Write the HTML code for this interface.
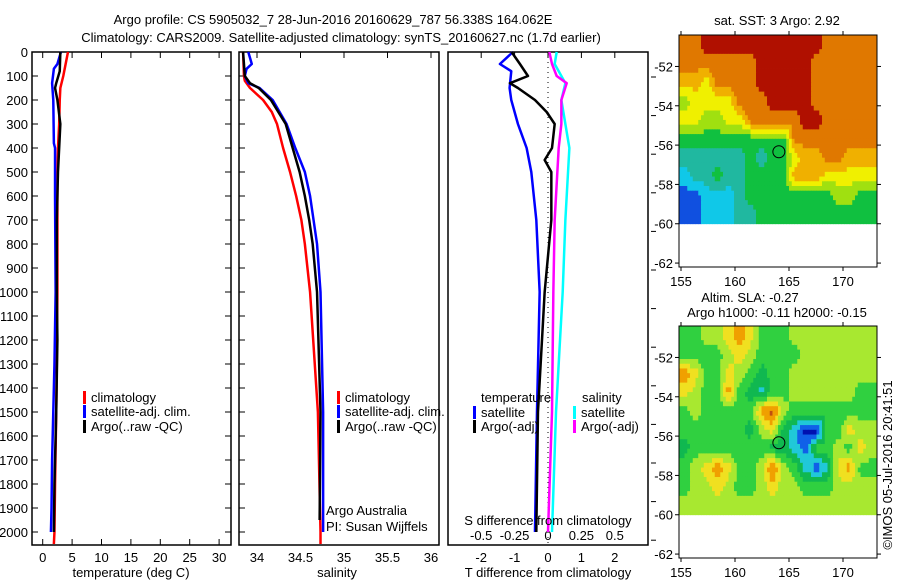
<!DOCTYPE html>
<html><head><meta charset="utf-8"><style>
body{margin:0;background:#fff}
svg text{font-family:"Liberation Sans",sans-serif;font-size:13px;fill:#000}
</style></head><body>
<svg id="c" width="900" height="580" viewBox="0 0 900 580" xmlns="http://www.w3.org/2000/svg">
<text x="333" y="24" text-anchor="middle" font-size="14">Argo profile: CS 5905032_7 28-Jun-2016 20160629_787 56.338S 164.062E</text>
<text x="341" y="42" text-anchor="middle" font-size="14">Climatology: CARS2009. Satellite-adjusted climatology: synTS_20160627.nc (1.7d earlier)</text>
<g id="g1"></g>
<g id="g2"></g>
<g id="g3"></g>
<g id="m1"></g>
<g id="m2"></g>
<text transform="translate(892,465) rotate(-90)" text-anchor="middle" font-size="13">©IMOS 05-Jul-2016 20:41:51</text>
</svg>
<script>
// ---- data ----
const depthTicks=[0,100,200,300,400,500,600,700,800,900,1000,1100,1200,1300,1400,1500,1600,1700,1800,1900,2000];
const tTicks=[0,5,10,15,20,25,30];
const sTicks=[34,34.5,35,35.5,36];
const dTTicks=[-2,-1,0,1,2];
const dSTicks=[-0.5,-0.25,0,0.25,0.5];
const dSTickLabels=["-0.5","-0.25","0","0.25","0.5"];
const tClimD=[0,50,100,150,200,300,400,500,700,1000,1300,1500,1800,2000,2050];
const tClimV=[4.3,3.9,3.5,3.0,2.9,2.8,2.6,2.5,2.5,2.5,2.4,2.3,2.1,2.0,1.9];
const tSatD=[0,50,70,130,200,380,400,600,1000,1300,1500,1700,1900,2000];
const tSatV=[3.1,2.5,1.9,1.6,1.8,1.9,2.1,2.1,2.2,2.0,1.8,1.6,1.5,1.4];
const tArgD=[0,80,130,150,200,300,400,500,700,1000,1200,1500,1800,2000];
const tArgV=[3.0,2.9,2.3,2.1,2.5,3.0,2.8,2.6,2.4,2.4,2.5,2.3,2.0,1.9];
const sClimD=[0,100,120,150,200,250,300,400,500,600,700,800,1000,1500,2000,2050];
const sClimV=[33.84,33.85,33.86,33.92,34.07,34.17,34.23,34.30,34.38,34.45,34.51,34.55,34.61,34.70,34.73,34.73];
const sSatD=[0,50,70,100,130,150,200,300,400,500,600,700,800,1000,1500,2000];
const sSatV=[33.90,33.94,33.88,33.86,33.90,34.03,34.18,34.34,34.44,34.55,34.61,34.65,34.69,34.73,34.76,34.76];
const sArgD=[0,100,130,150,200,300,400,500,600,700,800,1000,1500,1950];
const sArgV=[33.84,33.86,33.92,34.02,34.16,34.33,34.41,34.49,34.55,34.60,34.64,34.69,34.73,34.72];
const dTArgD=[0,50,100,130,150,200,250,300,400,450,500,700,1000,1500,2000];
const dTArgV=[-1.09,-0.84,-0.6,-1.14,-0.9,-0.39,-0.04,0.2,0.12,-0.1,0.1,0.1,-0.1,-0.3,-0.35];
const dTSatD=[0,50,80,150,200,300,400,500,700,1000,1500,2000];
const dTSatV=[-1.05,-1.44,-1.1,-1.15,-1.1,-0.9,-0.64,-0.5,-0.35,-0.25,-0.33,-0.39];
const dSArgD=[0,50,100,130,200,300,400,500,700,1000,1500,2000];
const dSArgV=[0.01,0.03,0.065,0.14,0.1,0.1,0.08,0.07,0.05,0.04,0.03,0.0];
const dSSatD=[0,50,100,130,200,300,400,500,700,1000,1500,2000];
const dSSatV=[0.065,0.05,0.1,0.13,0.1,0.13,0.16,0.15,0.13,0.11,0.06,0.03];
const sstRows=["889999999999988888","888888899999888888","776888899999888888","566668889999888888","665566888889988888","444444444488888888","333333434467788777","233433444477766666","112223444444445544","112223344444444444"];
const slaRows=["445567644455555555","444456544445555555","764465434455555555","654474324455555544","454444478544444444","444444356320044655","344444443321445465","456764458542126744","455654456554445555","555555555555555555"];
const lonTicks=[155,160,165,170];
const latTicks=[-52,-54,-56,-58,-60,-62];
const argoLon=164.062, argoLat=-56.338;
// ---- helpers ----
const NS="http://www.w3.org/2000/svg";
function mk(p,t,a){const e=document.createElementNS(NS,t);for(const k in a)e.setAttribute(k,a[k]);p.appendChild(e);return e;}
const yD=d=>52+d*0.24;
const Y0=52,Y1=545;
function frame(g,x0,x1){const r=mk(g,'rect',{x:x0,y:Y0,width:x1-x0,height:Y1-Y0,fill:'none',stroke:'#000','stroke-width':1.5});}
function line(g,D,V,fx,col,w,name){const pts=D.map((d,i)=>fx(V[i])+','+yD(d)).join(' ');const e=mk(g,'polyline',{points:pts,fill:'none',stroke:col,'stroke-width':w,'stroke-linejoin':'round'});}
function txt(g,x,y,s,anc,name){const t=mk(g,'text',{x:x,y:y,'text-anchor':anc||'start'});t.textContent=s;return t;}
function leg(g,x,y,col,s){mk(g,'rect',{x:x,y:y-11,width:3,height:13,fill:col});txt(g,x+8,y,s,'start','legend-entry');}
// panel 1
const g1=document.getElementById('g1');const xT=v=>42.7+v*5.88;
frame(g1,32,231);
depthTicks.forEach(d=>{const y=yD(d);mk(g1,'line',{x1:32,x2:38,y1:y,y2:y,stroke:'#000'});mk(g1,'line',{x1:225,x2:231,y1:y,y2:y,stroke:'#000'});txt(g1,28,y+5,String(d),'end','depth-tick-label');});
tTicks.forEach(v=>{const x=xT(v);mk(g1,'line',{x1:x,x2:x,y1:Y1,y2:Y1-6,stroke:'#000'});mk(g1,'line',{x1:x,x2:x,y1:Y0,y2:Y0+6,stroke:'#000'});txt(g1,x,562,String(v),'middle','temperature-tick-label');});
txt(g1,131,577,'temperature (deg C)','middle','x-axis-title');
line(g1,tClimD,tClimV,xT,'#f00',2.5,'temperature-climatology-line');
line(g1,tSatD,tSatV,xT,'#00f',2.5,'temperature-satellite-line');
line(g1,tArgD,tArgV,xT,'#000',2.5,'temperature-argo-line');
leg(g1,83,402,'#f00','climatology');leg(g1,83,416,'#00f','satellite-adj. clim.');leg(g1,83,431,'#000','Argo(..raw -QC)');
// panel 2
const g2=document.getElementById('g2');const xS=v=>257+(v-34)*87;
frame(g2,239,439);
depthTicks.forEach(d=>{const y=yD(d);mk(g2,'line',{x1:239,x2:245,y1:y,y2:y,stroke:'#000'});});
sTicks.forEach(v=>{const x=xS(v);mk(g2,'line',{x1:x,x2:x,y1:Y0,y2:Y0+6,stroke:'#000'});txt(g2,x,562,String(v),'middle','salinity-tick-label');});
txt(g2,337,577,'salinity','middle','x-axis-title');
line(g2,sClimD,sClimV,xS,'#f00',2.5,'salinity-climatology-line');
line(g2,sSatD,sSatV,xS,'#00f',2.5,'salinity-satellite-line');
line(g2,sArgD,sArgV,xS,'#000',2.5,'salinity-argo-line');
leg(g2,337,402,'#f00','climatology');leg(g2,337,416,'#00f','satellite-adj. clim.');leg(g2,337,431,'#000','Argo(..raw -QC)');
txt(g2,326,515,'Argo Australia','start','credit');txt(g2,326,531,'PI: Susan Wijffels','start','credit');
// panel 3
const g3=document.getElementById('g3');const xDT=v=>548+v*33.4;const xDS=v=>548+v*133.6;
frame(g3,448,648);
dTTicks.forEach(v=>{const x=xDT(v);mk(g3,'line',{x1:x,x2:x,y1:Y0,y2:Y0+6,stroke:'#000'});txt(g3,x,562,String(v),'middle','t-diff-tick-label');});
dSTicks.forEach((v,i)=>{txt(g3,xDS(v),540,dSTickLabels[i],'middle','s-diff-tick-label');});
for(let i=0;i<13;i++){const y=77+i*38.6;mk(g3,'line',{x1:651,x2:656,y1:y,y2:y,stroke:'#000'});}
mk(g3,'line',{x1:548,x2:548,y1:Y0,y2:Y1,stroke:'#000','stroke-dasharray':'1,4'});
line(g3,dSSatD,dSSatV,xDS,'#0ff',2.5,'s-diff-satellite-line');
line(g3,dSArgD,dSArgV,xDS,'#f0f',2.5,'s-diff-argo-line');
line(g3,dTSatD,dTSatV,xDT,'#00f',2.5,'t-diff-satellite-line');
line(g3,dTArgD,dTArgV,xDT,'#000',2.5,'t-diff-argo-line');
txt(g3,481,402,'temperature','start','legend-title');txt(g3,582,402,'salinity','start','legend-title');
leg(g3,473,417,'#00f','satellite');leg(g3,473,431,'#000','Argo(-adj)');
leg(g3,573,417,'#0ff','satellite');leg(g3,573,431,'#f0f','Argo(-adj)');
txt(g3,548,525,'S difference from climatology','middle','s-axis-title');
txt(g3,548,577,'T difference from climatology','middle','t-axis-title');
// maps
const sstPal=['#0010a0','#1050e0','#10c8e8','#20b8a0','#10c040','#a0e010','#f0f000','#f0b000','#e07800','#b01000'];
const slaPal=['#0010b0','#1060e8','#20c8d8','#10b850','#30d040','#a8e830','#f0e020','#f0a000','#c05010'];
function map(id,top,bot,latTop,rows,pal,titles){
 const g=document.getElementById(id);
 const lx=v=>681+(v-155)*10.8;const ly=v=>top+(latTop-v)*((bot-top)/(latTop+62.2));
 const x0=679,x1=877;const yEnd=ly(-60);
 const nr=rows.length,nc=rows[0].length,sub=4;
 const val=(i,j)=>+rows[Math.max(0,Math.min(nr-1,i))][Math.max(0,Math.min(nc-1,j))];
 const cw=(x1-x0)/(nc*sub),ch=(yEnd-top)/(nr*sub);
 for(let a=0;a<nr*sub;a++){for(let b=0;b<nc*sub;b++){
  const fi=(a+0.5)/sub-0.5,fj=(b+0.5)/sub-0.5;const i0=Math.floor(fi),j0=Math.floor(fj);const ti=fi-i0,tj=fj-j0;
  const v=val(i0,j0)*(1-ti)*(1-tj)+val(i0,j0+1)*(1-ti)*tj+val(i0+1,j0)*ti*(1-tj)+val(i0+1,j0+1)*ti*tj;
  const c=mk(g,'rect',{x:x0+b*cw,y:top+a*ch,width:cw+0.4,height:ch+0.4,fill:pal[Math.round(v)]});
  
  
 }}
 const f=mk(g,'rect',{x:x0,y:top,width:x1-x0,height:bot-top,fill:'none',stroke:'#000'});
 lonTicks.forEach(v=>{const x=lx(v);mk(g,'line',{x1:x,x2:x,y1:bot,y2:bot+4,stroke:'#000'});mk(g,'line',{x1:x,x2:x,y1:top,y2:top-4,stroke:'#000'});txt(g,x,bot+19,String(v),'middle','lon-tick-label').setAttribute('font-size','14');});
 latTicks.forEach(v=>{const y=ly(v);mk(g,'line',{x1:x0-4,x2:x0,y1:y,y2:y,stroke:'#000'});mk(g,'line',{x1:x1,x2:x1+4,y1:y,y2:y,stroke:'#000'});txt(g,x0-6,y+5,String(v),'end','lat-tick-label').setAttribute('font-size','14');});
 const c=mk(g,'circle',{cx:lx(argoLon),cy:ly(argoLat),r:6,fill:'none',stroke:'#000'});
 titles.forEach((t,i)=>txt(g,t[1],t[2],t[0],'middle','map-title'));
}
map('m1',35,267,-50.4,sstRows,sstPal,[['sat. SST: 3 Argo: 2.92',777,25]]);
map('m2',326,558,-50.4,slaRows,slaPal,[['Altim. SLA: -0.27',750,302],['Argo h1000: -0.11 h2000: -0.15',777,317]]);
</script>
</body></html>
